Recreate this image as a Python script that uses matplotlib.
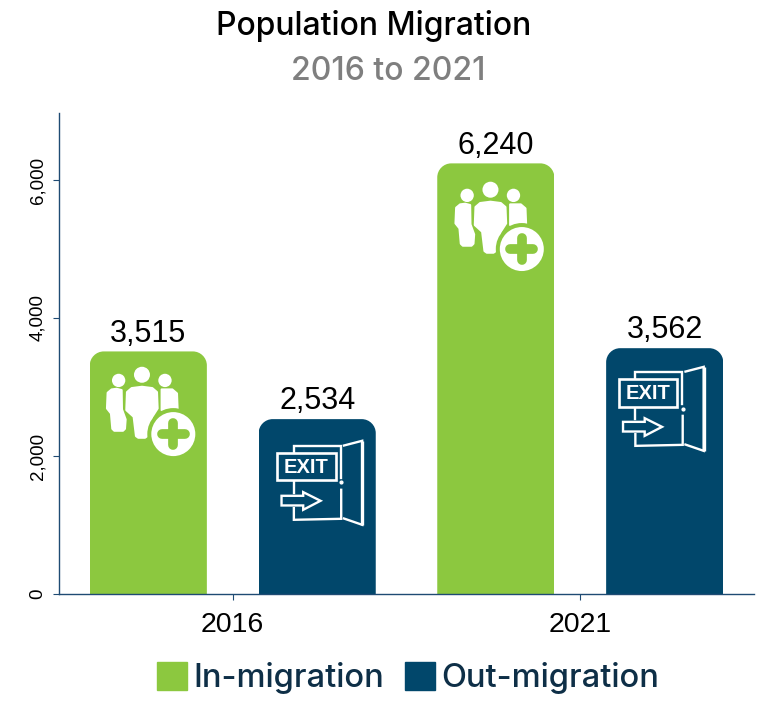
"""Population migration bars, 2016 vs 2021."""

import matplotlib

matplotlib.use("Agg")
import matplotlib.pyplot as plt
import numpy as np
from matplotlib.patches import Circle, Patch, Polygon, Rectangle
from matplotlib.path import Path
from matplotlib.transforms import Affine2D, IdentityTransform

years = ["2016", "2021"]
in_migration = [3515, 6240]
out_migration = [2534, 3562]
y_ticks = [0, 2000, 4000, 6000]
y_labels = ["0", "2,000", "4,000", "6,000"]

GREEN, NAVY = "#8CC83F", "#01476B"
AXIS = "#1F4B73"
LEGEND_TXT = "#0E2F47"
WIDTH_PX, HEIGHT_PX = 764, 702

plt.rcParams["font.family"] = ["Liberation Sans", "DejaVu Sans"]

fig = plt.figure(figsize=(WIDTH_PX / 100, HEIGHT_PX / 100), dpi=100)
left, right, top, bottom = 59, 754, 113, 594
ax = fig.add_axes(
    [left / WIDTH_PX, 1 - bottom / HEIGHT_PX, (right - left) / WIDTH_PX, (bottom - top) / HEIGHT_PX]
)

x = np.arange(len(years))
bar_w, offset = 0.337, 0.243
bars_in = ax.bar(x - offset, in_migration, bar_w, color=GREEN, label="In-migration")
bars_out = ax.bar(x + offset, out_migration, bar_w, color=NAVY, label="Out-migration")
ax.set_xlim(-0.5, 1.5)
ax.set_ylim(0, 6970)

ax.set_xticks(x, years, fontsize=20.5, color="black")
ax.set_yticks(y_ticks, y_labels, fontsize=13.5, rotation=90, va="center", color="black")
ax.tick_params(axis="x", length=4, width=0.8, color=AXIS, pad=9)
ax.tick_params(axis="y", length=4, width=0.8, color=AXIS, pad=5)
for side in ("top", "right"):
    ax.spines[side].set_visible(False)
for side in ("left", "bottom"):
    ax.spines[side].set_color(AXIS)
    ax.spines[side].set_linewidth(1)


def round_top(bar, radius=14):
    """Corta os cantos de cima da barra (em pixels)."""
    (x0, y0), (x1, y1) = bar.get_window_extent().get_points()
    k = radius * 0.45
    verts = [
        (x0, y0), (x0, y1 - radius),
        (x0, y1 - k), (x0 + k, y1), (x0 + radius, y1),
        (x1 - radius, y1),
        (x1 - k, y1), (x1, y1 - k), (x1, y1 - radius),
        (x1, y0), (x0, y0),
    ]
    codes = [Path.MOVETO, Path.LINETO, Path.CURVE4, Path.CURVE4, Path.CURVE4,
             Path.LINETO, Path.CURVE4, Path.CURVE4, Path.CURVE4, Path.LINETO, Path.CLOSEPOLY]
    bar.set_clip_path(Path(verts, codes), IdentityTransform())


def anchor(bar, dx, dy):
    """Transform para desenhar em px da zoom (3x), a partir do topo central da barra."""
    (x0, _), (x1, y1) = bar.get_window_extent().get_points()
    return Affine2D().scale(1 / 3, -1 / 3).translate((x0 + x1) / 2 + dx, y1 - dy)


def people_icon(bar, dx=0, dy=0):
    tr = anchor(bar, dx, dy)
    white = dict(facecolor="white", edgecolor="white", transform=tr, zorder=3)
    body = dict(lw=1.5, joinstyle="round", **white)
    # corpos
    ax.add_patch(Polygon([(-122, 118), (-110, 108), (-95, 106), (-80, 110), (-79, 168), (-68, 198),
                          (-70, 226), (-76, 232), (-102, 232), (-108, 226), (-112, 180),
                          (-124, 165)], **body))
    ax.add_patch(Polygon([(-64, 116), (-50, 104), (-19, 100), (12, 104), (26, 116), (28, 165),
                          (12, 190), (-3, 248), (-10, 253), (-30, 253), (-37, 248), (-44, 190),
                          (-66, 170)], **body))
    ax.add_patch(Polygon([(40, 108), (72, 108), (86, 120), (88, 170), (40, 170)], **body))
    # cabecas
    ax.add_patch(Circle((-19, 64), 24, lw=0, **white))
    ax.add_patch(Circle((-89, 81), 20, lw=0, **white))
    ax.add_patch(Circle((50, 81), 20, lw=0, **white))
    # circulo com o sinal de mais
    ax.add_patch(Circle((75, 242), 78, facecolor=GREEN, edgecolor="none", transform=tr, zorder=3))
    ax.add_patch(Circle((75, 242), 66, lw=0, **white))
    for xs, ys in (([41, 109], [242, 242]), ([75, 75], [208, 276])):
        ax.plot(xs, ys, color=GREEN, lw=7, solid_capstyle="round", transform=tr, zorder=4)


def exit_icon(bar, dx=0, dy=0):
    tr = anchor(bar, dx, dy)
    line = dict(color="white", lw=1.7, transform=tr, zorder=3, solid_joinstyle="miter")
    # batente
    ax.plot([-70, -70, 70, 70], [102, 80, 80, 177], **line)
    ax.plot([72, 72, -70, -70], [212, 299, 302, 267], **line)
    ax.plot([-70, -70], [187, 222], **line)
    ax.plot([72], [190], marker="o", ms=2, color="white", transform=tr, zorder=3)
    # porta
    ax.add_patch(Polygon([(77, 80), (135, 65), (135, 317), (77, 297)], closed=False,
                         fill=False, edgecolor="white", lw=1.7, transform=tr, zorder=3))
    ax.add_patch(Polygon([(135, 65), (135, 317)], closed=False, fill=False,
                         edgecolor="white", lw=2.4, transform=tr, zorder=3))
    # placa e seta
    ax.add_patch(Rectangle((-120, 102), 175, 82, fill=True, facecolor=NAVY, edgecolor="white",
                           lw=1.9, transform=tr, zorder=3))
    ax.text(-33, 145, "EXIT", color="white", fontsize=14.5, fontweight="bold", ha="center",
            va="center", transform=tr, zorder=4)
    ax.add_patch(Polygon([(-107, 230), (-42, 230), (-42, 219), (10, 245), (-42, 272), (-42, 259),
                          (-107, 259)], facecolor=NAVY, edgecolor="white", lw=1.7,
                         transform=tr, zorder=4))


for bar in list(bars_in) + list(bars_out):
    round_top(bar)
    ax.annotate(f"{bar.get_height():,}", (bar.get_x() + bar.get_width() / 2, bar.get_height()),
                xytext=(0, 2), textcoords="offset points", ha="center", va="bottom",
                fontsize=22, color="black")

people_icon(bars_in[0], dy=2)
people_icon(bars_in[1], dx=1, dy=5)
exit_icon(bars_out[0])
exit_icon(bars_out[1], dx=-6, dy=-3)

fig.text(374 / WIDTH_PX, 1 - 26 / HEIGHT_PX, "Population Migration", family=["Inter"], fontsize=23,
         fontweight=500, color="black", ha="center", va="center")
fig.text(388 / WIDTH_PX, 1 - 71 / HEIGHT_PX, "2016 to 2021", family=["Inter"], fontsize=23,
         fontweight=500, color="#7F7F7F", ha="center", va="center")

handles = [Patch(facecolor=GREEN, edgecolor=GREEN, lw=1, joinstyle="round", label="In-migration"),
           Patch(facecolor=NAVY, edgecolor=NAVY, lw=1, joinstyle="round", label="Out-migration")]
fig.legend(handles=handles, loc="center", bbox_to_anchor=(408 / WIDTH_PX, 1 - 678 / HEIGHT_PX),
           ncol=2, frameon=False, handlelength=0.92, handleheight=0.92, handletextpad=0.19,
           columnspacing=0.62, labelcolor=LEGEND_TXT,
           prop={"family": ["Inter"], "size": 23.5, "weight": 500})

fig.savefig("out.png", dpi=100)
